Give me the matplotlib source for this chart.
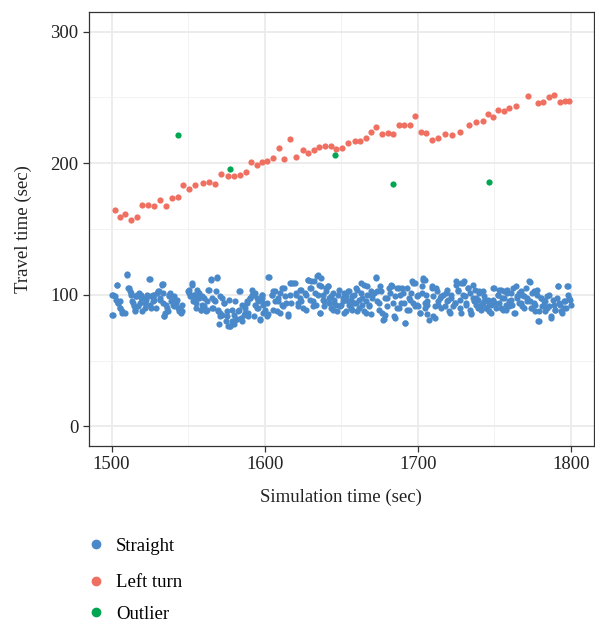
import numpy as np
import matplotlib
matplotlib.use("Agg")
import matplotlib.pyplot as plt
from matplotlib.lines import Line2D

# Left turn vehicles (simulation time, travel time)
left_t = [1502.1, 1505.4, 1508.8, 1512.5, 1516.4, 1519.8, 1523.7, 1527.4, 1531.7, 1535.6,
          1539.2, 1543.1, 1546.8, 1550.4, 1554.5, 1559.7, 1563.8, 1567.7, 1571.6, 1575.8,
          1579.7, 1583.6, 1587.5, 1591.1, 1594.8, 1598.4, 1601.7, 1605.6, 1609.2, 1612.9,
          1616.5, 1620.4, 1624.8, 1628.4, 1632.1, 1635.7, 1639.4, 1643.1, 1646.7, 1650.8,
          1654.7, 1658.8, 1662.3, 1665.9, 1669.6, 1673.0, 1676.6, 1680.3, 1684.0, 1687.8,
          1691.3, 1695.0, 1698.2, 1701.9, 1705.4, 1709.4, 1713.3, 1717.8, 1722.6, 1727.7,
          1733.6, 1738.1, 1742.4, 1746.1, 1749.1, 1752.5, 1756.2, 1759.6, 1763.9, 1771.7,
          1778.4, 1782.0, 1785.5, 1789.2, 1792.6, 1795.9, 1798.8]
left_y = [164.8, 159.2, 161.2, 157.2, 159.5, 168.3, 168.3, 167.3, 171.8, 167.8,
          173.3, 174.6, 183.4, 180.4, 183.1, 184.9, 185.4, 184.4, 191.8, 190.0,
          190.0, 191.0, 193.3, 201.3, 199.0, 201.1, 202.0, 204.1, 211.4, 203.6,
          218.2, 204.6, 210.1, 208.1, 209.8, 212.6, 213.1, 212.9, 210.6, 211.6,
          215.4, 216.9, 216.7, 219.4, 223.4, 227.2, 222.2, 223.2, 222.2, 228.8,
          228.8, 229.3, 236.1, 224.0, 223.2, 217.7, 219.0, 222.5, 221.8, 223.5,
          229.0, 231.6, 232.0, 237.3, 235.1, 240.4, 239.6, 242.1, 243.9, 250.9,
          245.7, 246.2, 250.4, 251.9, 246.4, 247.4, 247.7]

# Outliers
out_t = [1543.1, 1577.6, 1646.1, 1684.0, 1746.8]
out_y = [221.2, 195.3, 206.2, 183.9, 185.9]

# Straight vehicles
straight_t = [
    1500.4, 1500.4, 1502.2, 1503.7, 1502.8, 1504.3, 1505.4, 1505.8, 1507.1, 1508.6,
    1510.3, 1511.2, 1511.9, 1512.5, 1513.6, 1514.4, 1515.1, 1515.7, 1516.6, 1517.9,
    1518.3, 1519.4, 1520.0, 1521.6, 1522.2, 1523.1, 1524.4, 1524.8, 1525.9, 1526.9,
    1528.0, 1528.7, 1529.5, 1530.8, 1531.7, 1532.8, 1533.8, 1533.4, 1534.5, 1535.1,
    1536.0, 1537.3, 1538.1, 1538.8, 1539.9, 1541.0, 1542.0, 1543.1, 1544.2, 1545.3,
    1545.9, 1549.6, 1550.6, 1551.3, 1552.4, 1553.2, 1553.9, 1555.0, 1556.0, 1557.1,
    1558.2, 1559.3, 1560.3, 1561.4, 1562.5, 1563.6, 1564.7, 1565.3, 1566.2, 1567.5,
    1569.0, 1569.6, 1570.5, 1571.1, 1572.2, 1573.3, 1574.4, 1575.4, 1576.1, 1577.6,
    1578.7, 1579.7, 1580.8, 1582.5, 1583.4, 1584.5, 1585.1, 1586.2, 1587.3, 1588.4,
    1589.4, 1590.5, 1591.6, 1592.7, 1593.8, 1594.8, 1595.9, 1597.0, 1598.1, 1599.1,
    1598.1, 1598.7, 1600.2, 1601.3, 1602.8, 1604.5, 1605.6, 1606.7, 1607.8, 1608.9,
    1609.9, 1611.0, 1612.5, 1613.8, 1615.3, 1616.4, 1617.5, 1618.6, 1620.3, 1621.8,
    1622.9, 1623.9, 1625.0, 1626.7, 1628.3, 1629.3, 1630.4, 1631.5, 1632.6, 1633.6,
    1634.7, 1635.4, 1636.2, 1636.9, 1637.9, 1639.0, 1640.1, 1641.2, 1642.3, 1643.3,
    1644.4, 1645.5, 1647.0, 1648.7, 1649.8, 1650.9, 1652.0, 1653.0, 1654.1, 1655.2,
    1656.3, 1657.3, 1658.4, 1659.5, 1660.6, 1661.7, 1662.7, 1663.8, 1664.9, 1666.0,
    1667.0, 1668.1, 1669.2, 1670.3, 1671.4, 1672.4, 1673.5, 1674.6, 1675.7, 1677.2,
    1678.5, 1680.0, 1681.1, 1682.8, 1683.6, 1684.9, 1686.4, 1687.5, 1688.6, 1689.7,
    1690.8, 1691.8, 1692.9, 1694.0, 1695.7, 1697.2, 1698.3, 1699.4, 1700.4, 1701.5,
    1702.6, 1703.7, 1704.8, 1705.8,
    1704.7, 1705.3, 1706.2, 1707.5, 1709.0, 1711.1, 1712.2, 1713.3, 1714.4, 1715.5,
    1716.5, 1718.3, 1719.1, 1720.4, 1721.9, 1723.0, 1724.1, 1725.2, 1726.2, 1727.3,
    1728.4, 1729.5, 1730.5, 1731.6, 1732.7, 1733.8, 1734.9, 1735.9, 1737.0, 1738.1,
    1739.2, 1740.2, 1741.3, 1742.4, 1743.5, 1744.5, 1745.6, 1746.7, 1747.8, 1749.3,
    1750.6, 1752.1, 1753.2, 1754.2, 1755.3, 1756.4, 1757.5, 1758.6, 1759.6, 1760.7,
    1761.8, 1762.9, 1764.0, 1765.0, 1766.1, 1767.2, 1768.3, 1769.3, 1770.4, 1771.5,
    1773.0, 1773.6, 1774.7, 1775.8, 1776.9, 1778.0, 1778.6, 1779.5, 1780.8, 1782.3,
    1783.3, 1784.4, 1785.9, 1787.2, 1788.7, 1789.8, 1790.9, 1791.5, 1792.4, 1793.7,
    1795.2, 1796.3, 1797.8, 1798.4, 1799.5,
    1501.0, 1503.2, 1500.6, 1504.3, 1505.4, 1506.9, 1510.3, 1510.7, 1512.9, 1514.0,
    1515.1, 1516.1, 1517.2, 1518.9, 1520.4, 1521.5, 1523.7, 1524.8, 1525.8, 1526.9,
    1528.0, 1530.1, 1531.9, 1532.9, 1533.4, 1534.5, 1535.5, 1536.6, 1537.7, 1539.2,
    1540.9, 1543.0, 1544.8, 1546.3, 1550.6, 1551.7, 1552.8, 1553.8, 1554.9, 1556.0,
    1557.1, 1558.2, 1559.2, 1560.3, 1562.0, 1562.9, 1564.6, 1565.7, 1566.8, 1567.9,
    1568.9, 1569.4, 1570.0, 1571.1, 1572.2, 1573.7, 1575.4, 1576.5, 1577.6, 1578.6,
    1579.7, 1580.8, 1581.9, 1583.0, 1584.0, 1585.1, 1586.2, 1587.3, 1588.3, 1589.4,
    1590.5, 1591.6, 1592.6, 1593.7, 1594.8, 1595.9, 1597.0, 1598.0, 1599.1,
    1602.4, 1601.3, 1602.4, 1604.5, 1605.6, 1606.7, 1608.8, 1609.9, 1611.0, 1612.1,
    1613.1, 1615.3, 1616.4, 1617.4, 1619.6, 1620.7, 1621.8, 1622.8, 1623.9, 1626.1,
    1627.1, 1628.2, 1629.3, 1630.4, 1631.4, 1632.5, 1634.3, 1635.1, 1636.4, 1636.8,
    1637.9, 1639.0, 1640.1, 1641.1, 1642.2, 1643.3, 1644.4, 1645.5, 1646.5, 1648.0,
    1649.3, 1650.9, 1651.9, 1653.0, 1654.1, 1655.2, 1656.2, 1657.3, 1658.4, 1659.5,
    1660.5, 1661.6, 1662.7, 1663.8, 1664.9, 1665.9, 1667.0, 1668.1, 1669.2, 1670.2,
    1672.4, 1673.5, 1674.6, 1675.6, 1676.7, 1677.8, 1678.9, 1679.9, 1681.7, 1683.2,
    1684.3, 1685.3, 1686.4, 1687.5, 1689.0, 1690.3, 1691.8, 1692.9, 1694.0, 1695.0,
    1696.1, 1697.2, 1698.3, 1699.3, 1700.4, 1701.5, 1702.6, 1703.6, 1704.7, 1705.8,
    1709.0, 1710.1, 1711.2, 1710.1, 1712.3, 1713.4, 1715.5, 1717.7, 1718.8, 1719.8,
    1720.9, 1722.0, 1724.1, 1725.2, 1726.3, 1727.4, 1728.5, 1729.5, 1730.6, 1731.7,
    1732.8, 1733.8, 1734.9, 1736.0, 1737.1, 1738.2, 1739.2, 1740.3, 1741.4, 1742.5,
    1743.5, 1744.6, 1745.7, 1746.8, 1747.8, 1748.9, 1750.0, 1751.1, 1752.2, 1753.2,
    1754.3, 1755.4, 1756.5, 1757.5, 1758.6, 1759.7, 1760.8, 1761.9, 1763.4, 1764.7,
    1766.2, 1767.2, 1768.3, 1769.4, 1771.1, 1772.6, 1773.7, 1774.8, 1775.9, 1776.9,
    1778.0, 1779.1, 1780.2, 1781.3, 1782.3, 1783.4, 1784.5, 1785.6, 1787.1, 1788.4,
    1789.9, 1791.4, 1792.7, 1794.2, 1795.3, 1797.0, 1797.9, 1799.1, 1800.0]
straight_y = [
    100.0, 84.4, 98.7, 107.1, 96.2, 93.7, 95.5, 89.9, 87.9, 86.1,
    115.1, 105.0, 102.5, 100.0, 95.0, 91.2, 87.4, 98.7, 100.0, 101.3,
    93.7, 97.5, 87.4, 89.9, 96.2, 100.0, 112.1, 92.4, 98.7, 95.0,
    100.0, 89.9, 101.3, 102.5, 97.5, 107.6, 108.1, 93.7, 83.6, 86.1,
    89.9, 100.0, 101.3, 95.5, 92.4, 98.7, 93.7, 89.9, 87.4, 86.1,
    92.4, 102.5, 101.3, 98.7, 107.6, 95.0, 100.0, 89.9, 97.5, 101.3,
    88.7, 92.4, 97.5, 87.4, 88.7, 103.8, 111.3, 97.5, 89.9, 95.0,
    113.1, 87.4, 83.6, 98.7, 84.9, 93.7, 79.8, 87.4, 76.1, 76.1,
    79.8, 84.9, 81.1, 87.4, 102.5, 82.4, 92.4, 84.9, 89.9, 95.0,
    86.1, 97.5, 100.0, 83.6, 101.3, 89.9, 95.0, 81.1, 97.5, 92.4,
    100.0, 93.7, 88.7, 83.6, 113.4, 100.0, 102.5, 95.0, 87.4, 97.5,
    101.3, 92.4, 105.0, 93.7, 83.6, 100.0, 108.8, 108.8, 101.3, 93.7,
    97.5, 103.8, 89.9, 100.0, 111.3, 105.0, 110.1, 95.0, 101.3, 92.4,
    115.1, 107.6, 86.1, 112.6, 100.0, 95.0, 105.0, 106.3, 97.5, 89.9,
    101.3, 93.7, 87.4, 103.8, 92.4, 97.5, 101.3, 87.4, 95.0, 102.5,
    89.9, 98.7, 93.7, 105.0, 87.4, 96.2, 101.3, 92.4, 107.6, 86.1,
    100.0, 92.4, 102.5, 97.5, 101.3, 113.1, 95.0, 88.7, 102.5, 81.1,
    84.9, 97.5, 105.0, 107.6, 93.7, 82.4, 105.0, 89.9, 100.0, 105.0,
    93.7, 78.6, 88.7, 97.5, 101.3, 108.8, 91.2, 92.4, 100.0, 86.1,
    106.3, 111.3, 89.9, 95.0,
    111.3, 100.0, 92.4, 81.1, 105.0, 82.4, 105.0, 92.4, 97.5, 89.9,
    100.0, 101.3, 95.0, 87.4, 97.5, 91.2, 93.7, 107.6, 103.8, 96.2,
    108.8, 100.0, 110.1, 92.4, 105.0, 101.3, 86.1, 107.6, 95.0, 97.5,
    89.9, 101.3, 92.4, 102.5, 95.0, 89.9, 96.2, 92.4, 86.1, 105.0,
    93.7, 100.0, 103.8, 89.9, 97.5, 102.5, 88.7, 103.8, 95.0, 101.3,
    92.4, 86.1, 106.3, 97.5, 101.3, 93.7, 100.0, 89.9, 105.0, 97.5,
    109.6, 95.0, 89.9, 102.5, 92.4, 100.0, 79.8, 87.4, 97.5, 92.4,
    95.0, 89.9, 100.0, 82.4, 92.4, 88.7, 97.5, 106.3, 93.7, 87.4,
    89.9, 95.0, 106.3, 100.0, 96.2,
    100.1, 107.6, 84.5, 93.8, 90.0, 86.2, 115.7, 105.1, 101.3, 93.8,
    88.7, 98.8, 91.3, 100.1, 97.6, 93.8, 98.8, 112.2, 90.0, 100.1,
    96.3, 102.6, 96.3, 108.4, 101.3, 83.7, 92.5, 87.5, 98.8, 95.0,
    91.3, 96.3, 90.0, 87.5, 103.8, 98.8, 108.9, 100.1, 93.8, 103.8,
    97.6, 88.7, 98.8, 91.3, 95.0, 103.8, 111.9, 90.0, 96.3, 102.6,
    113.4, 88.7, 77.4, 86.2, 97.6, 93.8, 83.7, 96.3, 76.1, 88.7,
    77.4, 95.0, 81.2, 88.7, 102.6, 79.9, 91.3, 86.2, 93.8, 83.7,
    97.6, 103.8, 100.1, 92.5, 97.6, 90.0, 81.2, 100.1, 86.2,
    113.4, 93.8, 85.0, 100.1, 88.7, 102.6, 95.0, 86.2, 105.1, 91.3,
    98.8, 85.0, 108.9, 93.8, 108.9, 100.1, 91.3, 103.8, 95.0, 101.3,
    88.7, 111.4, 96.3, 105.1, 91.3, 110.1, 114.4, 100.1, 86.2, 106.4,
    96.3, 91.3, 102.6, 106.4, 93.8, 98.8, 88.7, 96.3, 92.5, 100.1,
    91.3, 95.0, 86.2, 98.8, 102.6, 92.5, 96.3, 88.7, 100.1, 93.8,
    103.8, 90.0, 108.9, 97.6, 87.5, 95.0, 106.4, 91.3, 85.0, 100.1,
    113.4, 102.6, 93.8, 106.4, 86.2, 81.2, 97.6, 91.3, 101.3, 106.4,
    83.7, 98.8, 90.0, 105.1, 93.8, 101.3, 78.7, 105.1, 88.7, 96.3,
    110.1, 93.8, 108.9, 98.8, 91.3, 86.2, 101.3, 112.7, 93.8, 85.0,
    106.4, 98.8, 91.3, 83.7, 102.6, 95.0, 98.8, 91.3, 103.8, 96.3,
    86.2, 100.1, 93.8, 110.1, 102.6, 90.0, 86.2, 108.9, 98.8, 93.8,
    105.1, 88.7, 85.0, 97.6, 103.8, 92.5, 96.3, 102.6, 88.7, 93.8,
    98.8, 90.0, 95.0, 87.5, 92.5, 96.3, 105.1, 90.0, 100.1, 93.8,
    103.8, 88.7, 97.6, 92.5, 101.3, 91.3, 96.3, 105.1, 86.2, 98.8,
    93.8, 102.6, 91.3, 98.8, 95.0, 110.1, 90.0, 101.3, 93.8, 87.5,
    103.8, 79.9, 97.6, 91.3, 95.0, 87.5, 98.8, 91.3, 83.7, 96.3,
    88.7, 106.4, 92.5, 86.2, 95.0, 90.0, 106.4, 97.6, 92.5]

labels = ["Straight", "Left turn", "Outlier"]
colors = ["#4a89c9", "#ef6f61", "#00a651"]

plt.rcParams["font.family"] = ["Liberation Serif", "DejaVu Serif"]
plt.rcParams["font.size"] = 13.5

fig = plt.figure(figsize=(5.95, 6.25), dpi=100)
ax = fig.add_axes([0.149, 0.2864, 0.849, 0.6944])

ms = 20
ax.scatter(straight_t, straight_y, s=ms, color=colors[0], linewidths=0, zorder=3)
ax.scatter(left_t, left_y, s=ms, color=colors[1], linewidths=0, zorder=3)
ax.scatter(out_t, out_y, s=ms, color=colors[2], linewidths=0, zorder=4)

ax.set_xlim(1485, 1815)
ax.set_ylim(-15, 315)
ax.set_xticks([1500, 1600, 1700, 1800])
ax.set_yticks([0, 100, 200, 300])
ax.set_xticks([1550, 1650, 1750], minor=True)
ax.set_yticks([50, 150, 250], minor=True)
ax.grid(True, which="major", color="#ebebeb", linewidth=1.3, zorder=0)
ax.grid(True, which="minor", color="#f2f2f2", linewidth=0.7, zorder=0)
ax.set_axisbelow(True)
for sp in ax.spines.values():
    sp.set_color("#333333")
    sp.set_linewidth(0.9)
ax.tick_params(which="major", length=4, width=0.9, color="#333333", labelcolor="#222222")
ax.tick_params(which="minor", length=0)

ax.set_xlabel("Simulation time (sec)", color="#222222", labelpad=11)
ax.set_ylabel("Travel time (sec)", color="#222222", labelpad=13)

# Legend, one row per group
rows_y = [0.126, 0.068, 0.017]
for lab, col, yy in zip(labels, colors, rows_y):
    h = Line2D([], [], marker="o", linestyle="", markersize=6, color=col)
    fig.legend(handles=[h], labels=[lab], loc="center left",
               bbox_to_anchor=(0.146, yy), frameon=False, handlelength=1.0,
               handletextpad=0.55, borderaxespad=0, borderpad=0, fontsize=13.5)

fig.savefig("out.png", dpi=100)
